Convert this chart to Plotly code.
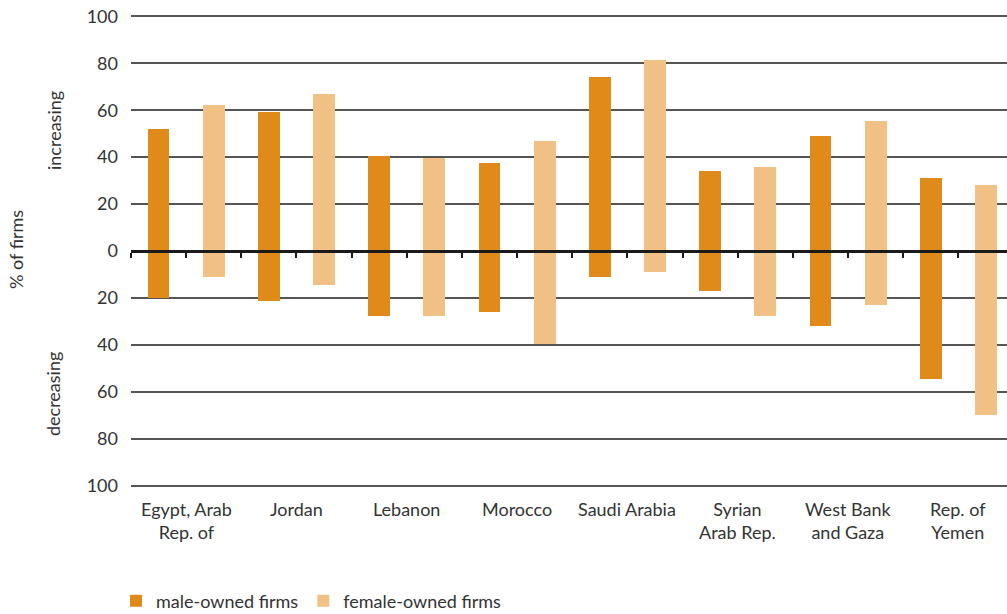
import plotly.graph_objects as go

countries = ["Egypt, Arab<br>Rep. of", "Jordan", "Lebanon", "Morocco", "Saudi Arabia",
             "Syrian<br>Arab Rep.", "West Bank<br>and Gaza", "Rep. of<br>Yemen"]
male_increasing = [52.2, 59.4, 40.3, 37.7, 74.3, 33.9, 49.2, 30.9]
male_decreasing = [20.0, 21.4, 27.7, 26.0, 11.1, 17.0, 31.9, 54.5]
female_increasing = [62.4, 66.7, 39.6, 46.7, 81.6, 35.6, 55.2, 28.0]
female_decreasing = [11.1, 14.6, 27.7, 39.7, 8.9, 27.7, 23.0, 69.8]
y_ticks = [100, 80, 60, 40, 20, 0, -20, -40, -60, -80, -100]
y_ticktext = [str(abs(v)) for v in y_ticks]

MALE = "#DF8A19"
FEMALE = "#F0C085"
FONT = "Lato, Roboto, sans-serif"
TXT = "#333333"
FS = 18

W, H = 1007, 614
ML, MR, MT, MB = 131, 0, 14, 126
PW, PH = W - ML - MR, H - MT - MB


def px(x):  # window pixel -> paper
    return (x - ML) / PW


def py(y):
    return (H - MB - y) / PH


n = len(countries)
male_x = [2 * i for i in range(n)]
female_x = [2 * i + 1 for i in range(n)]
label_x = [2 * i + 0.5 for i in range(n)]
bounds = [k - 0.5 for k in range(2 * n + 1)]
xr = [-0.5, 15.38]

fig = go.Figure()
fig.add_trace(go.Bar(x=male_x, y=[u + d for u, d in zip(male_increasing, male_decreasing)],
                     base=[-d for d in male_decreasing], width=0.39,
                     marker=dict(color=MALE, line=dict(width=0)), name="male-owned firms"))
fig.add_trace(go.Bar(x=female_x, y=[u + d for u, d in zip(female_increasing, female_decreasing)],
                     base=[-d for d in female_decreasing], width=0.4,
                     marker=dict(color=FEMALE, line=dict(width=0)), name="female-owned firms"))

fig.update_layout(
    width=W, height=H,
    margin=dict(l=ML, r=MR, t=MT, b=MB, autoexpand=False),
    plot_bgcolor="white", paper_bgcolor="white",
    font=dict(family=FONT, size=FS, color=TXT),
    showlegend=True,
    legend=dict(orientation="h", x=px(116), y=py(601), xanchor="left", yanchor="middle",
                font=dict(size=FS, color=TXT), traceorder="normal", itemwidth=30),
    xaxis=dict(range=xr, anchor="free", position=0.5, side="bottom",
               tickmode="array", tickvals=bounds, showticklabels=False,
               ticks="outside", ticklen=5, tickwidth=2, tickcolor="#1a1a1a",
               showline=True, linecolor="#1a1a1a", linewidth=2.5,
               showgrid=False, zeroline=False, layer="above traces"),
    yaxis=dict(range=[-101, 101], tickmode="array", tickvals=y_ticks, ticktext=y_ticktext,
               showgrid=True, gridcolor="#555555", gridwidth=1.5,
               zeroline=False, showline=False, ticks="",
               ticklabelstandoff=12, ticklabeloverflow="allow",
               tickfont=dict(size=FS, color=TXT)),
    bargap=0,
    hovermode=False,
)

for lx, name in zip(label_x, countries):
    fig.add_annotation(text=name, x=lx, xref="x", y=py(496), yref="paper",
                       xanchor="center", yanchor="top", showarrow=False,
                       font=dict(size=FS, color=TXT))

fig.add_annotation(text="% of firms", x=px(16), y=py(250), xref="paper", yref="paper",
                   xanchor="center", yanchor="middle",
                   textangle=-90, showarrow=False, font=dict(size=FS, color=TXT))
fig.add_annotation(text="increasing", x=px(54), y=py(131), xref="paper", yref="paper",
                   xanchor="center", yanchor="middle",
                   textangle=-90, showarrow=False, font=dict(size=FS, color=TXT))
fig.add_annotation(text="decreasing", x=px(53), y=py(394), xref="paper", yref="paper",
                   xanchor="center", yanchor="middle",
                   textangle=-90, showarrow=False, font=dict(size=FS, color=TXT))

fig.write_html("out.html",
               config={"displayModeBar": False},
               post_script="document.body.style.margin='0px';document.body.style.overflow='hidden';")
